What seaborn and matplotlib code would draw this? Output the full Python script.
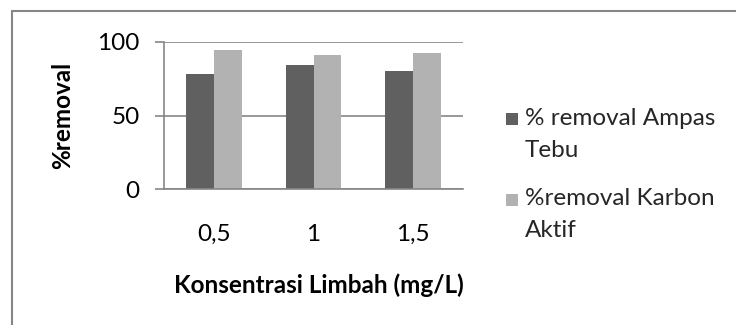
import matplotlib
matplotlib.use("Agg")
import matplotlib.pyplot as plt
from matplotlib.lines import Line2D
from matplotlib.path import Path
import seaborn as sns
import pandas as pd

# Data
konsentrasi = ["0,5", "1", "1,5"]
removal_ampas_tebu = [78.1, 84.0, 79.9]
removal_karbon_aktif = [94.6, 91.2, 92.1]
series_labels = ["% removal Ampas\nTebu", "%removal Karbon\nAktif"]
y_ticks = [0, 50, 100]

df = pd.DataFrame({
    "Konsentrasi": konsentrasi * 2,
    "removal": removal_ampas_tebu + removal_karbon_aktif,
    "seri": [series_labels[0]] * 3 + [series_labels[1]] * 3,
})

colors = ["#606060", "#b2b2b2"]
grid_col = "#868686"
FS = 17.5

sns.set_theme(style="white")
plt.rcParams["font.family"] = ["Lato", "DejaVu Sans"]

W, H = 736, 325
fig = plt.figure(figsize=(W / 100, H / 100), dpi=100)
ax = fig.add_axes([164 / W, 1 - 189.3 / H, (463 - 164) / W, (189.3 - 41.7) / H])

sns.barplot(data=df, x="Konsentrasi", y="removal", hue="seri", order=konsentrasi,
            palette=colors, width=0.56, saturation=1,
            edgecolor="none", linewidth=0, ax=ax, legend=False)

ax.set_ylim(0, 100)
ax.set_yticks(y_ticks)
ax.yaxis.grid(True, color=grid_col, linewidth=1.2)
ax.set_axisbelow(True)
for side in ["top", "right"]:
    ax.spines[side].set_visible(False)
for side in ["left", "bottom"]:
    ax.spines[side].set_color(grid_col)
    ax.spines[side].set_linewidth(1.2)
ax.tick_params(axis="y", length=6.5, width=1.2, color=grid_col, pad=11,
               labelsize=FS, labelcolor="#000000", left=True)
ax.tick_params(axis="x", length=0, pad=25, labelsize=FS, labelcolor="#000000")
ax.set_xlabel("")
ax.set_ylabel("")

fig.text(319 / W, 1 - 285 / H, "Konsentrasi Limbah (mg/L)", ha="center", va="center",
         fontsize=FS, fontweight="bold", color="#000000")
fig.text(63 / W, 1 - 115 / H, "%removal", ha="center", va="center", rotation=90,
         fontsize=FS, fontweight="bold", color="#000000")

# Legend swatch: a square raised to sit beside the first line of each label
swatch = Path([(-6, 9), (6, 9), (6, 21), (-6, 21), (-6, 9)],
              [Path.MOVETO, Path.LINETO, Path.LINETO, Path.LINETO, Path.CLOSEPOLY])
handles = [Line2D([], [], linestyle="none", marker=swatch, markersize=30.2,
                  markerfacecolor=c, markeredgewidth=0) for c in colors]
leg = fig.legend(handles, series_labels, loc="upper left",
                 bbox_to_anchor=(499.5 / W, 1 - 108 / H),
                 frameon=False, fontsize=FS, handlelength=1.0, handleheight=0.7,
                 handletextpad=0.05, labelspacing=1.13, borderaxespad=0, borderpad=0)
for t in leg.get_texts():
    t.set_linespacing(1.63)

# Outer chart border (top and left edges)
fig.add_artist(Line2D([12 / W, 1], [1 - 11 / H, 1 - 11 / H], transform=fig.transFigure,
                      color=grid_col, linewidth=1.5))
fig.add_artist(Line2D([12 / W, 12 / W], [1 - 11 / H, 0], transform=fig.transFigure,
                      color=grid_col, linewidth=1.5))

fig.savefig("out.png", dpi=100, facecolor="white")
